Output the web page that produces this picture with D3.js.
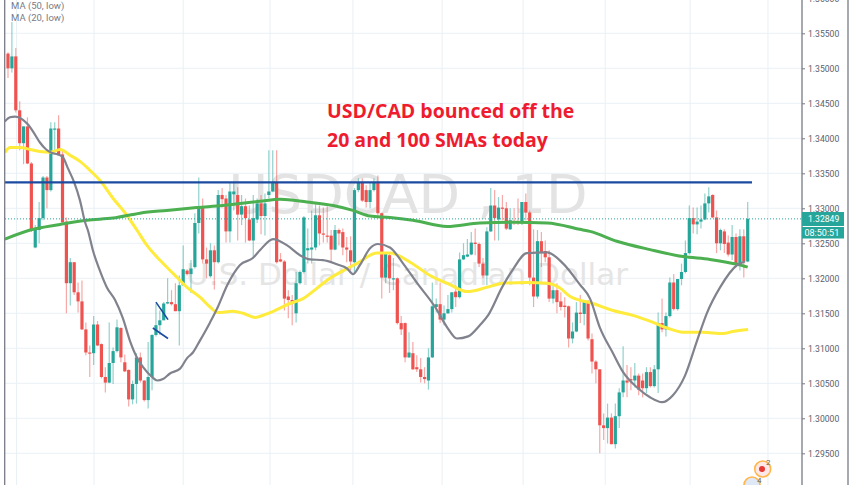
<!DOCTYPE html>
<html><head><meta charset="utf-8">
<style>html,body{margin:0;padding:0;background:#fff}svg{display:block}</style>
<script src="https://d3js.org/d3.v7.min.js"></script>
</head><body><div id="chart"></div>
<script>
const opens=[
1.3521,1.3500,1.3517,1.3440,1.3393,1.3417,1.3364,1.3244,1.3269,1.3286,
1.3344,1.3326,1.3413,1.3414,1.3377,1.3281,1.3193,1.3223,1.3180,1.3167,
1.3127,1.3094,1.3093,1.3134,1.3106,1.3059,1.3051,1.3079,1.3096,1.3129,
1.3080,1.3069,1.3027,1.3049,1.3087,1.3054,1.3026,1.3059,1.3119,1.3133,
1.3140,1.3164,1.3166,1.3163,1.3153,1.3190,1.3211,1.3206,1.3216,1.3279,
1.3303,1.3227,1.3203,1.3240,1.3223,1.3319,1.3314,1.3267,1.3320,1.3319,
1.3291,1.3303,1.3284,1.3254,1.3284,1.3307,1.3289,1.3319,1.3324,1.3337,
1.3227,1.3224,1.3174,1.3169,1.3150,1.3193,1.3209,1.3240,1.3241,1.3244,
1.3290,1.3264,1.3261,1.3261,1.3241,1.3269,1.3266,1.3244,1.3240,1.3223,
1.3326,1.3337,1.3326,1.3309,1.3326,1.3336,1.3293,1.3201,1.3233,1.3199,
1.3200,1.3136,1.3136,1.3087,1.3093,1.3073,1.3070,1.3059,1.3054,1.3087,
1.3159,1.3163,1.3141,1.3150,1.3156,1.3181,1.3173,1.3227,1.3231,1.3234,
1.3251,1.3249,1.3221,1.3204,1.3267,1.3304,1.3284,1.3301,1.3300,1.3270,
1.3281,1.3281,1.3279,1.3309,1.3294,1.3201,1.3174,1.3253,1.3239,1.3230,
1.3171,1.3183,1.3167,1.3161,1.3160,1.3114,1.3124,1.3151,1.3149,1.3166,
1.3113,1.3081,1.3070,1.2990,1.2986,1.3001,1.2963,1.3003,1.3037,1.3054,
1.3056,1.3054,1.3061,1.3054,1.3043,1.3066,1.3046,1.3070,1.3136,1.3127,
1.3146,1.3194,1.3156,1.3199,1.3209,1.3236,1.3286,1.3277,1.3281,1.3284,
1.3307,1.3319,1.3287,1.3250,1.3267,1.3251,1.3234,1.3259,1.3219,1.3260,
1.3224];
const closes=[
1.3500,1.3517,1.3440,1.3393,1.3417,1.3364,1.3269,1.3271,1.3286,1.3344,
1.3326,1.3414,1.3414,1.3377,1.3280,1.3193,1.3223,1.3180,1.3167,1.3127,
1.3094,1.3093,1.3134,1.3104,1.3059,1.3051,1.3079,1.3096,1.3130,1.3087,
1.3067,1.3027,1.3049,1.3087,1.3054,1.3026,1.3059,1.3119,1.3133,1.3140,
1.3164,1.3166,1.3163,1.3153,1.3190,1.3213,1.3206,1.3214,1.3279,1.3301,
1.3227,1.3221,1.3240,1.3223,1.3319,1.3313,1.3267,1.3324,1.3324,1.3291,
1.3303,1.3286,1.3254,1.3286,1.3307,1.3289,1.3307,1.3324,1.3336,1.3223,
1.3224,1.3171,1.3169,1.3164,1.3193,1.3209,1.3287,1.3243,1.3244,1.3290,
1.3264,1.3263,1.3260,1.3241,1.3269,1.3264,1.3244,1.3241,1.3224,1.3326,
1.3337,1.3311,1.3309,1.3326,1.3337,1.3293,1.3201,1.3236,1.3200,1.3200,
1.3136,1.3127,1.3087,1.3094,1.3070,1.3070,1.3059,1.3056,1.3087,1.3160,
1.3163,1.3141,1.3150,1.3156,1.3180,1.3173,1.3227,1.3233,1.3234,1.3251,
1.3249,1.3221,1.3204,1.3267,1.3304,1.3286,1.3301,1.3300,1.3271,1.3283,
1.3279,1.3279,1.3309,1.3294,1.3201,1.3174,1.3253,1.3237,1.3230,1.3171,
1.3183,1.3166,1.3159,1.3159,1.3114,1.3124,1.3151,1.3149,1.3166,1.3114,
1.3081,1.3070,1.2990,1.2986,1.3001,1.2963,1.3003,1.3037,1.3054,1.3051,
1.3054,1.3061,1.3041,1.3043,1.3066,1.3046,1.3070,1.3136,1.3127,1.3146,
1.3194,1.3156,1.3199,1.3209,1.3236,1.3286,1.3277,1.3281,1.3284,1.3307,
1.3317,1.3287,1.3250,1.3269,1.3249,1.3234,1.3259,1.3219,1.3260,1.3224,
1.3285];
const highs=[
1.3523,1.3566,1.3529,1.3453,1.3417,1.3430,1.3366,1.3276,1.3309,1.3346,
1.3346,1.3423,1.3423,1.3433,1.3383,1.3287,1.3229,1.3223,1.3194,1.3197,
1.3137,1.3104,1.3146,1.3139,1.3107,1.3073,1.3137,1.3101,1.3141,1.3130,
1.3091,1.3070,1.3054,1.3093,1.3094,1.3054,1.3109,1.3120,1.3164,1.3154,
1.3166,1.3200,1.3183,1.3193,1.3204,1.3247,1.3213,1.3226,1.3293,1.3344,
1.3314,1.3244,1.3250,1.3247,1.3326,1.3329,1.3319,1.3337,1.3337,1.3330,
1.3319,1.3314,1.3304,1.3319,1.3314,1.3319,1.3321,1.3383,1.3383,1.3383,
1.3236,1.3226,1.3183,1.3176,1.3209,1.3211,1.3289,1.3271,1.3297,1.3309,
1.3304,1.3301,1.3303,1.3269,1.3276,1.3271,1.3271,1.3259,1.3260,1.3329,
1.3343,1.3343,1.3333,1.3337,1.3343,1.3347,1.3294,1.3236,1.3236,1.3229,
1.3201,1.3146,1.3137,1.3123,1.3109,1.3090,1.3086,1.3073,1.3100,1.3194,
1.3171,1.3194,1.3161,1.3176,1.3180,1.3190,1.3237,1.3250,1.3256,1.3266,
1.3271,1.3251,1.3229,1.3273,1.3329,1.3326,1.3316,1.3319,1.3309,1.3300,
1.3300,1.3314,1.3309,1.3321,1.3297,1.3270,1.3269,1.3266,1.3254,1.3240,
1.3193,1.3193,1.3180,1.3173,1.3161,1.3137,1.3166,1.3176,1.3169,1.3169,
1.3121,1.3083,1.3070,1.3007,1.3021,1.3007,1.3021,1.3043,1.3103,1.3076,
1.3073,1.3079,1.3064,1.3064,1.3073,1.3073,1.3076,1.3151,1.3171,1.3151,
1.3201,1.3206,1.3199,1.3221,1.3254,1.3304,1.3301,1.3301,1.3304,1.3321,
1.3330,1.3320,1.3297,1.3271,1.3270,1.3261,1.3276,1.3264,1.3270,1.3270,
1.3309];
const lows=[
1.3486,1.3494,1.3437,1.3383,1.3363,1.3363,1.3266,1.3243,1.3250,1.3283,
1.3300,1.3324,1.3380,1.3376,1.3279,1.3150,1.3161,1.3176,1.3151,1.3126,
1.3090,1.3059,1.3076,1.3103,1.3057,1.3037,1.3050,1.3049,1.3094,1.3080,
1.3066,1.3017,1.3020,1.3021,1.3051,1.3024,1.3014,1.3040,1.3117,1.3119,
1.3140,1.3163,1.3161,1.3153,1.3104,1.3189,1.3204,1.3179,1.3214,1.3264,
1.3221,1.3200,1.3201,1.3184,1.3221,1.3301,1.3251,1.3251,1.3297,1.3254,
1.3276,1.3251,1.3253,1.3229,1.3279,1.3263,1.3261,1.3314,1.3323,1.3221,
1.3223,1.3154,1.3143,1.3133,1.3137,1.3191,1.3207,1.3221,1.3221,1.3240,
1.3247,1.3251,1.3251,1.3223,1.3240,1.3247,1.3233,1.3223,1.3211,1.3209,
1.3323,1.3309,1.3301,1.3300,1.3324,1.3290,1.3171,1.3193,1.3179,1.3183,
1.3134,1.3119,1.3080,1.3086,1.3069,1.3066,1.3051,1.3050,1.3041,1.3086,
1.3151,1.3136,1.3133,1.3149,1.3151,1.3159,1.3171,1.3226,1.3230,1.3233,
1.3233,1.3216,1.3200,1.3190,1.3266,1.3254,1.3254,1.3283,1.3269,1.3269,
1.3276,1.3276,1.3276,1.3283,1.3190,1.3159,1.3171,1.3216,1.3223,1.3166,
1.3164,1.3150,1.3154,1.3144,1.3101,1.3107,1.3123,1.3136,1.3133,1.3111,
1.3064,1.3050,1.2950,1.2969,1.2964,1.2963,1.2957,1.2986,1.3030,1.3030,
1.3040,1.3044,1.3033,1.3030,1.3036,1.3044,1.3044,1.3036,1.3123,1.3117,
1.3144,1.3154,1.3154,1.3190,1.3207,1.3234,1.3264,1.3263,1.3271,1.3283,
1.3294,1.3286,1.3236,1.3240,1.3236,1.3231,1.3226,1.3216,1.3211,1.3201,
1.3223];

const ma100Bars=[-0.8,5.7,13.4,20.3,27,33.9,40.8,48.5,55.2,64.7,69.9,76.8,83.5,88.6,93,98.1,104,112.8,121.2,129.7,138.5,146.9,149.5,156.4,164.9,173.4,180.3,187.3,190];
const ma100Vals=[1.3256,1.3269,1.3277,1.3283,1.3286,1.3293,1.3297,1.3301,1.3304,1.3310,1.3313,1.3309,1.3304,1.3297,1.3289,1.3287,1.3283,1.3274,1.3279,1.3280,1.3279,1.3270,1.3267,1.3253,1.3241,1.3231,1.3227,1.3220,1.3216];
const ma20Bars=[-0.8,0.5,1.8,3.1,4.9,6.4,8.2,9.8,11.3,12.8,14.1,15.4,17,18.5,19.8,20.5,21.8,23.6,25.4,27.5,29.5,31.3,33.1,34.7,37,38.3,39.8,41.6,44.2,46,47.5,49.3,51.9,53.9,56.3,59.6,62.9,64.7,68.1,71.7,75,77.6,80.9,84.5,87.1,88.6,90.4,93,95,98.1,101.5,105.1,109.7,112.8,115.3,118.2,121.2,123.3,126.9,129.5,133.3,138.5,142.6,146.9,149.5,152,155.4,158,161.6,164.9,168,170.8,173.9,177,179.5,182.9,187.3,189.3];
const ma20Vals=[1.3424,1.3430,1.3431,1.3429,1.3421,1.3410,1.3394,1.3384,1.3379,1.3377,1.3373,1.3357,1.3337,1.3311,1.3280,1.3269,1.3240,1.3211,1.3187,1.3169,1.3143,1.3111,1.3087,1.3073,1.3059,1.3054,1.3056,1.3064,1.3071,1.3086,1.3094,1.3111,1.3137,1.3159,1.3190,1.3219,1.3229,1.3240,1.3256,1.3247,1.3233,1.3227,1.3226,1.3220,1.3214,1.3206,1.3219,1.3243,1.3249,1.3244,1.3221,1.3193,1.3159,1.3130,1.3114,1.3117,1.3133,1.3147,1.3187,1.3211,1.3236,1.3237,1.3221,1.3191,1.3171,1.3130,1.3093,1.3066,1.3044,1.3030,1.3023,1.3033,1.3061,1.3111,1.3150,1.3187,1.3219,1.3224];
const ma50Bars=[-0.8,0.5,3.1,5.7,8.2,10.8,13.4,15.9,18.5,21.1,23.6,27,30,33.1,35.7,39,42.4,46,49.3,51.9,53.9,57.8,60.4,63.4,67.3,72.4,75.8,79.4,82.7,86.1,89.6,94.8,98.1,103.3,108.4,113.5,117.9,123,127.2,133.3,138.5,141.8,144.4,150.3,155.4,160.5,165.7,169.3,173.4,178.5,183.7,186.2,190.1];
const ma50Vals=[1.3380,1.3387,1.3387,1.3384,1.3381,1.3380,1.3384,1.3376,1.3367,1.3354,1.3340,1.3314,1.3294,1.3269,1.3247,1.3226,1.3207,1.3187,1.3173,1.3159,1.3151,1.3153,1.3150,1.3144,1.3151,1.3164,1.3171,1.3186,1.3200,1.3211,1.3221,1.3236,1.3236,1.3223,1.3204,1.3191,1.3181,1.3187,1.3193,1.3194,1.3193,1.3186,1.3174,1.3164,1.3154,1.3147,1.3137,1.3129,1.3123,1.3123,1.3121,1.3124,1.3127];

const priceTicks=[1.36,1.355,1.35,1.345,1.34,1.335,1.33,1.325,1.32,1.315,1.31,1.305,1.30,1.295];
const gridBars=[2.2,22.1,45,67.3,88.6,111.5,132.3,153.4,175.2,195.2];
const lastPrice=1.32849, countdown="08:50:51";
const resistance=1.3337, resistanceBars=[-0.8,191.1];
const strokeBars=[[38,41.1],[37.2,41.1]];
const strokeVals=[[1.3166,1.3141],[1.3129,1.3114]];
const legendLabels=["MA (50, low)","MA (20, low)"];
const titleLines=["USD/CAD bounced off the","20 and 100 SMAs today"];
const watermark="USDCAD , 1D", watermarkSub="U.S. Dollar / Canadian Dollar";

const W=852,H=485,plotL=5,plotR=802,paneR=848;
const svg=d3.select("#chart").append("svg").attr("width",W).attr("height",H).attr("viewBox",`0 0 ${W} ${H}`).style("font-family","Roboto, sans-serif");
const x=d3.scaleLinear().domain([0,190]).range([8,747.7]);
const y=d3.scaleLinear().domain([1.36,1.295]).range([-1.7,453.3]);

svg.append("clipPath").attr("id","plot").append("rect").attr("x",plotL).attr("y",0).attr("width",plotR-plotL).attr("height",H);
const grid=svg.append("g").attr("stroke","#e9f0f5").attr("stroke-width",1);
grid.selectAll("line.h").data(priceTicks).join("line").attr("class","h").attr("x1",plotL).attr("x2",plotR).attr("y1",d=>y(d)).attr("y2",d=>y(d));
grid.selectAll("line.v").data(gridBars).join("line").attr("class","v").attr("y1",0).attr("y2",H).attr("x1",d=>x(d)).attr("x2",d=>x(d));

svg.append("text").attr("x",408).attr("y",213).attr("text-anchor","middle").attr("font-family","'DejaVu Sans', sans-serif").attr("font-size",54).attr("fill","#e3e3e3").text(watermark);
svg.append("text").attr("x",407).attr("y",285).attr("text-anchor","middle").attr("font-family","'DejaVu Sans', sans-serif").attr("font-size",31).attr("fill","#e5e5e5").text(watermarkSub);

const plot=svg.append("g").attr("clip-path","url(#plot)");
const up="#26a69a",down="#ef5350";
const idx=d3.range(opens.length);
const col=i=>closes[i]>=opens[i]?up:down;
plot.append("g").attr("stroke-width",1.2).attr("stroke-opacity",.5).selectAll("line").data(idx).join("line")
 .attr("x1",i=>x(i)).attr("x2",i=>x(i)).attr("y1",i=>y(highs[i])).attr("y2",i=>y(lows[i])).attr("stroke",col);
plot.append("g").selectAll("rect").data(idx).join("rect")
 .attr("x",i=>x(i)-1.6).attr("width",3.2)
 .attr("y",i=>Math.min(y(opens[i]),y(closes[i])))
 .attr("height",i=>Math.max(1.2,Math.abs(y(opens[i])-y(closes[i])))).attr("fill",col);

const line=d3.line().x(d=>x(d[0])).y(d=>y(d[1])).curve(d3.curveMonotoneX);
const drawMA=(bars,vals,color,w)=>plot.append("path").attr("d",line(bars.map((b,i)=>[b,vals[i]]))).attr("fill","none").attr("stroke",color).attr("stroke-width",w).attr("stroke-linejoin","round");
drawMA(ma50Bars,ma50Vals,"#ffeb3b",3);
drawMA(ma100Bars,ma100Vals,"#4caf50",3);
drawMA(ma20Bars,ma20Vals,"#80828d",2.2);

plot.append("line").attr("x1",x(resistanceBars[0])).attr("x2",x(resistanceBars[1])).attr("y1",y(resistance)).attr("y2",y(resistance)).attr("stroke","#1b4ba0").attr("stroke-width",2.4);
plot.selectAll("line.s").data(strokeBars).join("line").attr("class","s").attr("stroke","#1b4ba0").attr("stroke-width",1.6)
 .attr("x1",d=>x(d[0])).attr("x2",d=>x(d[1])).attr("y1",(d,i)=>y(strokeVals[i][0])).attr("y2",(d,i)=>y(strokeVals[i][1]));
svg.append("line").attr("x1",plotL).attr("x2",plotR).attr("y1",y(lastPrice)).attr("y2",y(lastPrice)).attr("stroke",up).attr("stroke-dasharray","1 2");

svg.selectAll("line.b").data([4.7,plotR,paneR]).join("line").attr("class","b").attr("x1",d=>d).attr("x2",d=>d).attr("y1",0).attr("y2",H).attr("stroke","#787b86").attr("stroke-width",1.3);

const axis=d3.axisRight(y).tickValues(priceTicks).tickSize(3).tickPadding(3).tickFormat(d3.format(".5f"));
const ag=svg.append("g").attr("transform",`translate(${plotR},0)`).call(axis);
ag.select(".domain").remove();
ag.selectAll("line").attr("stroke","#787b86");
ag.selectAll("text").attr("fill","#5d606b").attr("font-size",8.6).attr("font-family","Roboto, sans-serif");

svg.append("rect").attr("x",plotR).attr("y",212).attr("width",42).attr("height",14).attr("fill",up);
svg.append("rect").attr("x",plotR).attr("y",227).attr("width",42).attr("height",11.5).attr("fill",up);
svg.append("text").attr("x",808).attr("y",222).attr("fill","#fff").attr("font-size",8.6).text(d3.format(".5f")(lastPrice));
svg.append("text").attr("x",804.5).attr("y",236).attr("fill","#fff").attr("font-size",9).text(countdown);

svg.selectAll("text.leg").data(legendLabels).join("text").attr("class","leg").attr("x",11).attr("y",(d,i)=>8.5+i*12).attr("fill","#787b86").attr("font-size",9.5).text(d=>d);

svg.selectAll("text.tt").data(titleLines).join("text").attr("class","tt").attr("x",327).attr("y",(d,i)=>118+i*29).attr("fill","#ee1c2e").attr("font-family","'Open Sans', sans-serif").attr("font-weight",700).attr("font-size",19.5).text(d=>d);

const flagCx=[762.7,752], flagCy=[469,485], flagFill=["#fde7e7","#dfe8f7"];
svg.selectAll("circle.f").data(flagCx).join("circle").attr("class","f").attr("cx",d=>d).attr("cy",(d,i)=>flagCy[i]).attr("r",8).attr("fill",(d,i)=>flagFill[i]).attr("stroke","#ffb74d").attr("stroke-width",1.6);
svg.append("circle").attr("cx",762).attr("cy",469).attr("r",3).attr("fill","#e53935");
svg.append("text").attr("x",766).attr("y",465).attr("font-size",8).attr("fill","#666").text("2");
svg.append("text").attr("x",757).attr("y",483).attr("font-size",8).attr("fill","#666").text("4");
</script></body></html>
